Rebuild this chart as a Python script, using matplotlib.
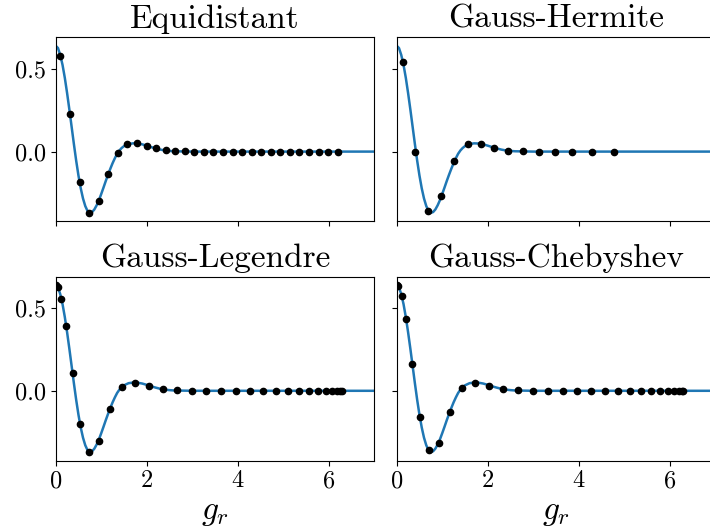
import numpy as np
import matplotlib
matplotlib.use("Agg")
import matplotlib.pyplot as plt

plt.rcParams['font.family'] = 'serif'
plt.rcParams['font.serif'] = ['cmr10', 'DejaVu Serif']
plt.rcParams['mathtext.fontset'] = 'cm'
plt.rcParams['axes.formatter.use_mathtext'] = True
plt.rcParams['axes.unicode_minus'] = False

# reference curve, tabulated
g_curve = [0.00, 0.05, 0.10, 0.15, 0.20, 0.25, 0.30, 0.35, 0.40, 0.45,
           0.50, 0.55, 0.60, 0.65, 0.70, 0.75, 0.80, 0.85, 0.90, 0.95,
           1.00, 1.05, 1.10, 1.15, 1.20, 1.25, 1.30, 1.35, 1.40, 1.45,
           1.50, 1.60, 1.70, 1.80, 1.90, 2.00, 2.10, 2.20, 2.30, 2.40,
           2.50, 2.60, 2.80, 3.00, 7.00]
f_curve = [0.641, 0.627, 0.585, 0.525, 0.447, 0.355, 0.255, 0.150, 0.045, -0.055,
           -0.145, -0.222, -0.284, -0.330, -0.360, -0.371, -0.366, -0.350, -0.325, -0.294,
           -0.257, -0.218, -0.178, -0.140, -0.104, -0.070, -0.040, -0.013, 0.007, 0.022,
           0.033, 0.046, 0.050, 0.049, 0.044, 0.036, 0.027, 0.019, 0.012, 0.007,
           0.004, 0.002, 0.001, 0.0, 0.0]

# sample points for each grid
g_equi = [0.105, 0.315, 0.525, 0.735, 0.945, 1.155, 1.365, 1.575, 1.785, 1.995,
          2.205, 2.415, 2.625, 2.835, 3.045, 3.255, 3.465, 3.675, 3.885, 4.095,
          4.305, 4.515, 4.725, 4.935, 5.145, 5.355, 5.565, 5.775, 5.985, 6.195]
f_equi = [0.580, 0.230, -0.183, -0.370, -0.298, -0.138, -0.007, 0.044, 0.050, 0.036,
          0.019, 0.009, 0.004, 0.001, 0.0, 0.0, 0.0, 0.0, 0.0, 0.0,
          0.0, 0.0, 0.0, 0.0, 0.0, 0.0, 0.0, 0.0, 0.0, 0.0]

g_herm = [0.147, 0.410, 0.696, 0.974, 1.267, 1.560, 1.853, 2.146, 2.447, 2.780,
          3.130, 3.480, 3.860, 4.280, 4.770]
f_herm = [0.540, 0.000, -0.358, -0.270, -0.055, 0.044, 0.047, 0.023, 0.006, 0.001,
          0.0, 0.0, 0.0, 0.0, 0.0]

g_leg = [0.010, 0.051, 0.126, 0.232, 0.370, 0.537, 0.731, 0.952, 1.195, 1.460,
         1.742, 2.039, 2.348, 2.665, 2.988, 3.312, 3.635, 3.952, 4.261, 4.558,
         4.840, 5.105, 5.348, 5.568, 5.763, 5.930, 6.068, 6.174, 6.249, 6.290]
f_leg = [0.640, 0.628, 0.553, 0.390, 0.106, -0.202, -0.369, -0.302, -0.110, 0.024,
         0.049, 0.030, 0.010, 0.002, 0.0, 0.0, 0.0, 0.0, 0.0, 0.0,
         0.0, 0.0, 0.0, 0.0, 0.0, 0.0, 0.0, 0.0, 0.0, 0.0]

g_cheb = [0.004, 0.039, 0.107, 0.209, 0.343, 0.508, 0.702, 0.923, 1.168, 1.434,
          1.720, 2.021, 2.335, 2.657, 2.985, 3.315, 3.643, 3.965, 4.279, 4.580,
          4.866, 5.132, 5.377, 5.598, 5.792, 5.957, 6.091, 6.193, 6.261, 6.296]
f_cheb = [0.641, 0.633, 0.575, 0.432, 0.162, -0.158, -0.361, -0.316, -0.127, 0.018,
          0.049, 0.031, 0.010, 0.002, 0.0, 0.0, 0.0, 0.0, 0.0, 0.0,
          0.0, 0.0, 0.0, 0.0, 0.0, 0.0, 0.0, 0.0, 0.0, 0.0]

titles = ['Equidistant', 'Gauss-Hermite', 'Gauss-Legendre', 'Gauss-Chebyshev']
samples = [(g_equi, f_equi), (g_herm, f_herm), (g_leg, f_leg), (g_cheb, f_cheb)]

fig = plt.figure(figsize=(7.1, 5.32), dpi=100)
W, H = 710.0, 532.0
# axes boxes in pixels: left, top, width, height
boxes = [(55.7, 37.3, 318.6, 184.0), (396.7, 37.3, 318.6, 184.0),
         (55.7, 276.5, 318.6, 184.0), (396.7, 276.5, 318.6, 184.0)]

axes = []
for i, (x0, y0, w, h) in enumerate(boxes):
    rect = [x0 / W, 1 - (y0 + h) / H, w / W, h / H]
    if i == 0:
        ax = fig.add_axes(rect)
    else:
        ax = fig.add_axes(rect, sharex=axes[0], sharey=axes[0])
    axes.append(ax)

for i, ax in enumerate(axes):
    g, f = samples[i]
    ax.plot(g_curve, f_curve, color='#1f77b4', lw=1.8, zorder=1)
    ax.plot(g, f, 'o', color='black', ms=4.5, zorder=2)
    ax.set_title(titles[i], fontsize=24, pad=7)
    ax.tick_params(labelsize=17.5)
    if i < 2:
        ax.tick_params(labelbottom=False)
    else:
        ax.set_xlabel(r'$g_r$', fontsize=24, labelpad=5)
    if i % 2 == 1:
        ax.tick_params(labelleft=False)

axes[0].set_xlim(0, 7)
axes[0].set_xticks([0, 2, 4, 6])
axes[0].set_yticks([0.0, 0.5])
axes[0].set_yticklabels(['0.0', '0.5'])
axes[0].set_xticklabels(['0', '2', '4', '6'])
axes[0].set_ylim(-0.422, 0.692)

fig.savefig('out.png', dpi=100)
